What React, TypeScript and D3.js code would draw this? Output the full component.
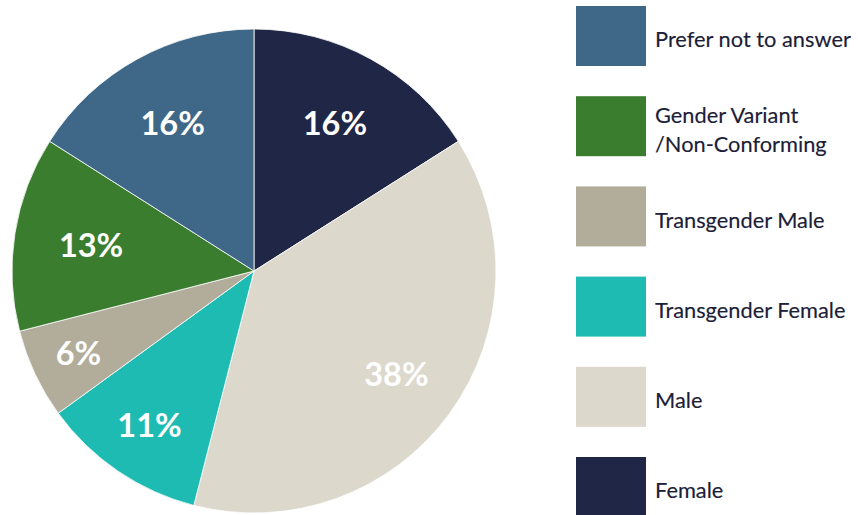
import React from "react";
import * as d3 from "d3";

const categories = ["Female", "Male", "Transgender Female", "Transgender Male", "Gender Variant /Non-Conforming", "Prefer not to answer"];
const values = [16, 38, 11, 6, 13, 16];
const colors = ["#1f2646", "#dcd8cc", "#1dbbb2", "#b2ac9b", "#3a7d2f", "#3f6888"];
const labelRadii = [168, 176, 186, 194, 165, 169];
const legendOrder = ["Prefer not to answer", "Gender Variant /Non-Conforming", "Transgender Male", "Transgender Female", "Male", "Female"];
const legendLines: Record<string, string[]> = {
  "Gender Variant /Non-Conforming": ["Gender Variant", "/Non-Conforming"],
};

export default function App() {
  const W = 858, H = 515;
  const cx = 254, cy = 271, R = 242;
  const pie = d3.pie<number>().sort(null).value((d) => d);
  const arcs = pie(values);
  const arc = d3.arc<d3.PieArcDatum<number>>().innerRadius(0).outerRadius(R);
  const total = d3.sum(values);

  const legendY = d3.scaleBand<string>().domain(legendOrder).range([6, 6 + 90.2 * 6]);

  return (
    <svg width={W} height={H} style={{ position: "absolute", left: 0, top: 0, background: "#fff" }}>
      <g transform={`translate(${cx},${cy})`}>
        {arcs.map((a, i) => (
          <path key={i} d={arc(a) || ""} fill={colors[i]} stroke="#ffffff" strokeWidth={0.8} />
        ))}
        {arcs.map((a, i) => {
          const mid = (a.startAngle + a.endAngle) / 2;
          const r = labelRadii[i];
          const x = Math.sin(mid) * r;
          const y = -Math.cos(mid) * r;
          return (
            <text key={"l" + i} x={x} y={y} dy="0.36em" textAnchor="middle" fill="#ffffff"
              style={{ fontFamily: "Lato, 'Open Sans', sans-serif", fontWeight: 700, fontSize: 32.5 }}>
              {Math.round((values[i] / total) * 100)}%
            </text>
          );
        })}
      </g>
      <g>
        {legendOrder.map((name) => {
          const i = categories.indexOf(name);
          const y0 = legendY(name) as number;
          const lines = legendLines[name] || [name];
          const mid = y0 + 33.5;
          return (
            <g key={name}>
              <rect x={576} y={y0} width={70} height={60} fill={colors[i]} />
              {lines.map((ln, k) => (
                <text key={k} x={655} y={mid + (k - (lines.length - 1) / 2) * 29} dy="0.35em" fill="#1b2037"
                  stroke="#1b2037" strokeWidth={0.15}
                  style={{ fontFamily: "Lato, 'Open Sans', sans-serif", fontWeight: 400, fontSize: 21.8 }}>
                  {ln}
                </text>
              ))}
            </g>
          );
        })}
      </g>
    </svg>
  );
}
